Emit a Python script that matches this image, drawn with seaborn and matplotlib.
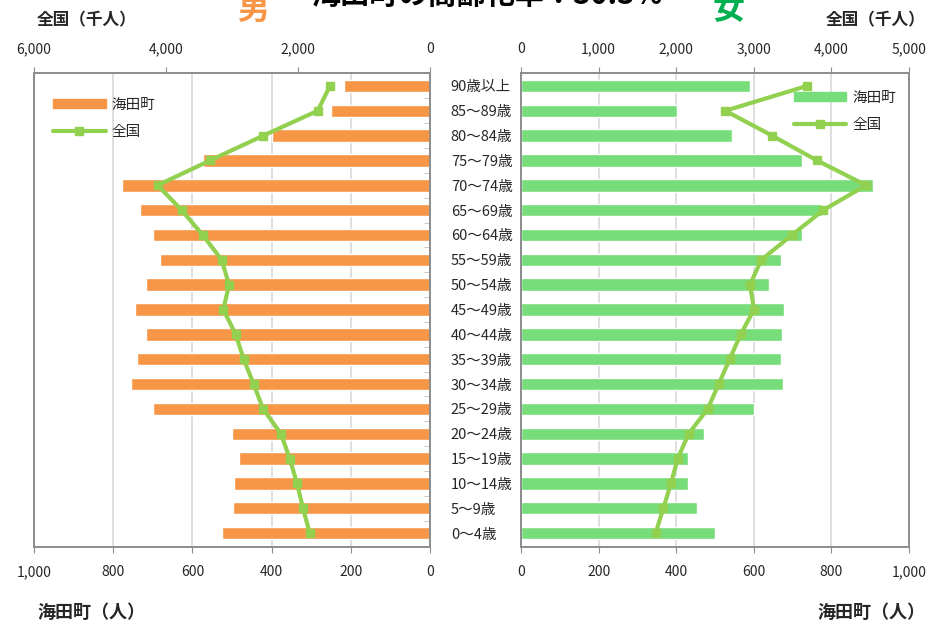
import numpy as np
import pandas as pd
import matplotlib
matplotlib.use("Agg")
import matplotlib.pyplot as plt
from matplotlib.ticker import FuncFormatter, MultipleLocator
from matplotlib.lines import Line2D
from matplotlib.patches import Patch
import seaborn as sns

# 年齢階級（上から）
ages = ['90歳以上', '85〜89歳', '80〜84歳', '75〜79歳', '70〜74歳', '65〜69歳',
        '60〜64歳', '55〜59歳', '50〜54歳', '45〜49歳', '40〜44歳', '35〜39歳',
        '30〜34歳', '25〜29歳', '20〜24歳', '15〜19歳', '10〜14歳', '5〜9歳', '0〜4歳']

# 海田町（人）
town_male = [217, 250, 400, 572, 777, 732, 699, 682, 716, 745,
             718, 741, 754, 699, 499, 482, 495, 498, 524]
town_female = [590, 401, 543, 723, 908, 777, 724, 670, 638, 679,
               672, 669, 675, 600, 471, 430, 431, 453, 500]

# 全国（千人）
nat_male = [1515, 1702, 2525, 3333, 4126, 3763, 3444, 3157, 3045, 3131,
            2944, 2823, 2672, 2530, 2258, 2126, 2015, 1924, 1823]
nat_female = [3686, 2633, 3235, 3814, 4446, 3896, 3492, 3097, 2951, 3003,
              2831, 2689, 2548, 2406, 2161, 2019, 1933, 1834, 1735]

title = '海田町の高齢化率：30.3%'

sns.set_style('white')
plt.rcParams['font.family'] = ['Noto Sans CJK JP', 'DejaVu Sans']

orange = '#F79646'
bar_green = '#77DD7A'
line_green = '#92D050'
frame = '#8C8C8C'
grid = '#D9D9D9'

df = pd.DataFrame({'age': ages, 'male': town_male, 'female': town_female,
                   'nat_male': nat_male, 'nat_female': nat_female})
ypos = np.arange(len(ages))

fig = plt.figure(figsize=(9.31, 6.24), dpi=100)
ax_l = fig.add_axes([34 / 931, 77 / 624, 396 / 931, 474 / 624])
ax_r = fig.add_axes([521 / 931, 77 / 624, 388 / 931, 474 / 624])

comma = FuncFormatter(lambda v, p: f'{int(v):,}')


def draw_side(ax, town_col, nat_col, bar_color, town_max, nat_max, left):
    sns.barplot(data=df, x=town_col, y='age', color=bar_color, width=0.5,
                ax=ax, order=ages, orient='h', saturation=1)
    ax.set_ylim(18.56, -0.52)
    if left:
        ax.set_xlim(town_max, 0)
    else:
        ax.set_xlim(0, town_max)
    ax.xaxis.set_major_locator(MultipleLocator(200))
    ax.xaxis.set_major_formatter(comma)
    ax.grid(axis='x', color=grid, linewidth=1.2)
    ax.set_axisbelow(True)
    ax.set_xlabel('')
    ax.set_ylabel('')
    for s in ax.spines.values():
        s.set_color(frame)
        s.set_linewidth(1.2)
    ax.tick_params(axis='x', direction='out', length=4, color=frame,
                   labelsize=10, pad=9, bottom=True)

    ax2 = ax.twiny()
    ax2.plot(df[nat_col], ypos, color=line_green, linewidth=3, marker='s',
             markersize=6, zorder=5)
    if left:
        ax2.set_xlim(nat_max, 0)
    else:
        ax2.set_xlim(0, nat_max)
    ax2.set_ylim(18.56, -0.52)
    ax2.xaxis.set_major_locator(MultipleLocator(1000 if not left else 2000))
    ax2.xaxis.set_major_formatter(comma)
    ax2.tick_params(axis='x', direction='out', length=4, color=frame,
                    labelsize=10, pad=8, top=True)
    for s in ax2.spines.values():
        s.set_color(frame)
        s.set_linewidth(1.2)
    return ax2


ax2_l = draw_side(ax_l, 'male', 'nat_male', orange, 1000, 6000, True)
ax2_r = draw_side(ax_r, 'female', 'nat_female', bar_green, 1000, 5000, False)

# 中央の年齢ラベル
ax_l.yaxis.tick_right()
ax_l.set_yticks(ypos)
ax_l.set_yticklabels(ages)
ax_l.tick_params(axis='y', length=0, pad=15, labelsize=10.5)
ax_l.set_yticks(ypos[:-1] + 0.5, minor=True)
ax_l.tick_params(axis='y', which='minor', direction='in', length=4,
                 color='#BFBFBF', right=True)
ax_r.set_yticks(ypos)
ax_r.set_yticklabels([])
ax_r.tick_params(axis='y', length=0)

# 凡例
handles = [Patch(color=orange, label='海田町'),
           Line2D([], [], color=line_green, linewidth=3, marker='s',
                  markersize=6, label='全国')]
ax2_l.legend(handles=handles, loc='upper left', bbox_to_anchor=(0.015, 0.975),
             frameon=False, fontsize=10.5, handlelength=3.6, handleheight=0.6,
             handletextpad=0.4, labelspacing=0.9)
handles_r = [Patch(color=bar_green, label='海田町'),
             Line2D([], [], color=line_green, linewidth=3, marker='s',
                    markersize=6, label='全国')]
ax2_r.legend(handles=handles_r, loc='upper right', bbox_to_anchor=(1.0, 0.99),
             frameon=False, fontsize=10.5, handlelength=3.6, handleheight=0.6,
             handletextpad=0.4, labelspacing=0.9)

# 見出し・軸タイトル
fig.text(487 / 931, 1 + 5 / 624, title, ha='center', va='center',
         fontsize=21, fontweight='bold', color='black')
fig.text(253 / 931, 1 - 10 / 624, '男', ha='center', va='center',
         fontsize=23, fontweight='bold', color=orange)
fig.text(729 / 931, 1 - 10 / 624, '女', ha='center', va='center',
         fontsize=23, fontweight='bold', color='#00B050')
fig.text(37 / 931, 1 - 20 / 624, '全国（千人）', ha='left', va='center',
         fontsize=12, fontweight='bold')
fig.text(925 / 931, 1 - 20 / 624, '全国（千人）', ha='right', va='center',
         fontsize=12, fontweight='bold')
fig.text(37 / 931, 1 - 612 / 624, '海田町（人）', ha='left', va='center',
         fontsize=13, fontweight='bold')
fig.text(925 / 931, 1 - 612 / 624, '海田町（人）', ha='right', va='center',
         fontsize=13, fontweight='bold')

fig.savefig('out.png', dpi=100)
